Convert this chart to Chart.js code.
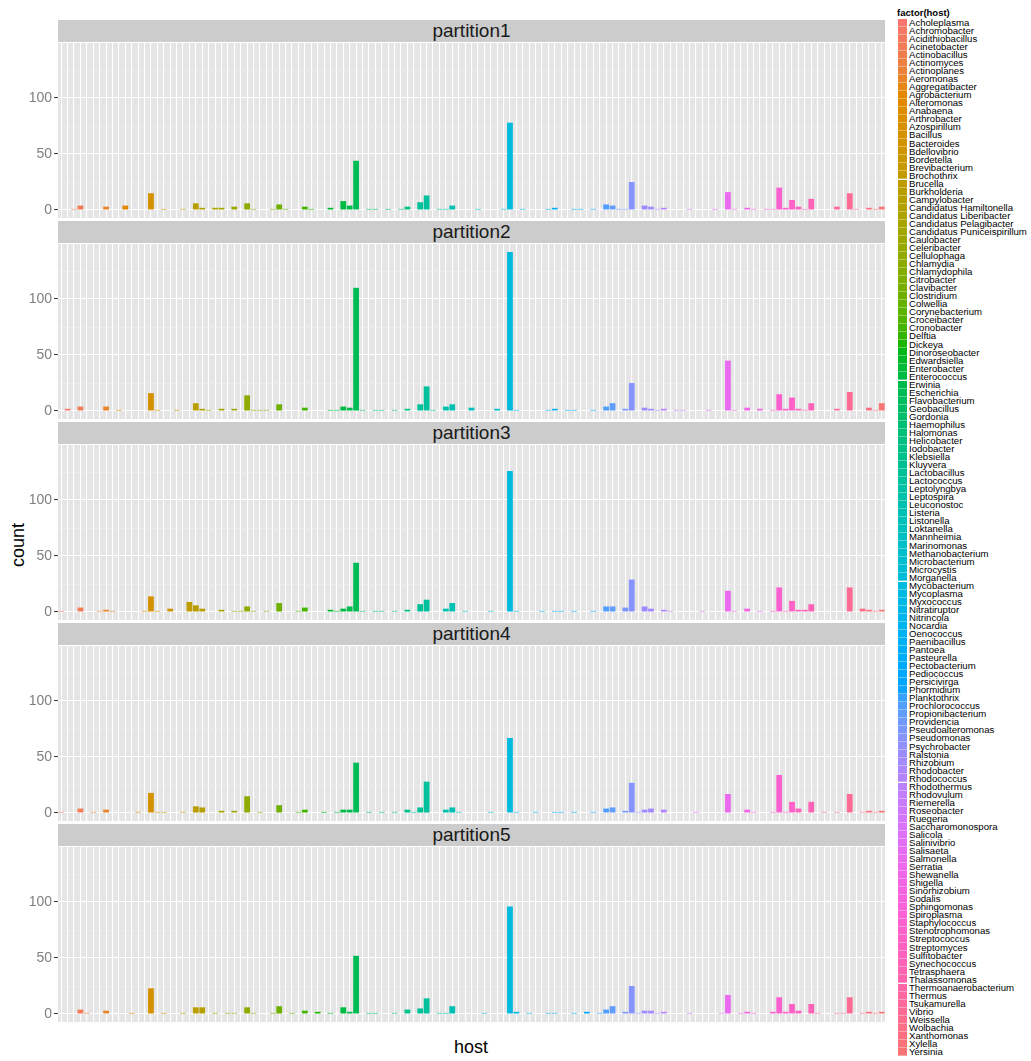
<!DOCTYPE html>
<html lang="en">
<head>
<meta charset="UTF-8">
<title>count by host, partitions 1-5</title>
<script src="https://cdn.jsdelivr.net/npm/chart.js"></script>
<style>
  body {
    margin: 0;
    background: #fff;
    font-family: "Liberation Sans", Arial, sans-serif;
  }
  #wrap {
    position: relative;
    width: 1031px;
    height: 1061px;
    overflow: hidden;
  }
  .strip {
    position: absolute;
    left: 58px;
    width: 827px;
    height: 22px;
    background: #cccccc;
    color: #1a1a1a;
    font-size: 19px;
    line-height: 22px;
    text-align: center;
  }
  canvas.panel {
    position: absolute;
    left: 0;
  }
  #ytitle {
    position: absolute;
    left: 18px;
    top: 545px;
    font-size: 18px;
    transform: translate(-50%, -50%) rotate(-90deg);
  }
  #xtitle {
    position: absolute;
    left: 471px;
    top: 1047px;
    font-size: 18px;
    transform: translate(-50%, -50%);
  }
  #legend-title {
    position: absolute;
    left: 897px;
    top: 7px;
    font-size: 9.5px;
    font-weight: bold;
  }
  .key {
    position: absolute;
    left: 898px;
    width: 9px;
    box-sizing: border-box;
    border-bottom: 1px solid rgba(255,255,255,0.35);
  }
  .klab {
    position: absolute;
    left: 909px;
    font-size: 9.6px;
    line-height: 8px;
    white-space: nowrap;
    color: #000;
  }
</style>
</head>
<body>
<div id="wrap">
  <div id="ytitle">count</div>
  <div id="xtitle">host</div>
  <div id="legend-title">factor(host)</div>
</div>

<script>
const hosts = ["Acholeplasma","Achromobacter","Acidithiobacillus","Acinetobacter","Actinobacillus","Actinomyces","Actinoplanes","Aeromonas","Aggregatibacter","Agrobacterium",
  "Alteromonas","Anabaena","Arthrobacter","Azospirillum","Bacillus","Bacteroides","Bdellovibrio","Bordetella","Brevibacterium","Brochothrix",
  "Brucella","Burkholderia","Campylobacter","Candidatus Hamiltonella","Candidatus Liberibacter","Candidatus Pelagibacter","Candidatus Puniceispirillum","Caulobacter","Celeribacter","Cellulophaga",
  "Chlamydia","Chlamydophila","Citrobacter","Clavibacter","Clostridium","Colwellia","Corynebacterium","Croceibacter","Cronobacter","Delftia",
  "Dickeya","Dinoroseobacter","Edwardsiella","Enterobacter","Enterococcus","Erwinia","Escherichia","Flavobacterium","Geobacillus","Gordonia",
  "Haemophilus","Halomonas","Helicobacter","Iodobacter","Klebsiella","Kluyvera","Lactobacillus","Lactococcus","Leptolyngbya","Leptospira",
  "Leuconostoc","Listeria","Listonella","Loktanella","Mannheimia","Marinomonas","Methanobacterium","Microbacterium","Microcystis","Morganella",
  "Mycobacterium","Mycoplasma","Myxococcus","Nitratiruptor","Nitrincola","Nocardia","Oenococcus","Paenibacillus","Pantoea","Pasteurella",
  "Pectobacterium","Pediococcus","Persicivirga","Phormidium","Planktothrix","Prochlorococcus","Propionibacterium","Providencia","Pseudoalteromonas","Pseudomonas",
  "Psychrobacter","Ralstonia","Rhizobium","Rhodobacter","Rhodococcus","Rhodothermus","Rhodovulum","Riemerella","Roseobacter","Ruegeria",
  "Saccharomonospora","Salicola","Salinivibrio","Salisaeta","Salmonella","Serratia","Shewanella","Shigella","Sinorhizobium","Sodalis",
  "Sphingomonas","Spiroplasma","Staphylococcus","Stenotrophomonas","Streptococcus","Streptomyces","Sulfitobacter","Synechococcus","Tetrasphaera","Thalassomonas",
  "Thermoanaerobacterium","Thermus","Tsukamurella","Vibrio","Weissella","Wolbachia","Xanthomonas","Xylella","Yersinia"];

const partitions = ["partition1", "partition2", "partition3", "partition4", "partition5"];

// counts per host, same order as hosts
const partition1 = [0,0,1,4,0,0,0,3,0,0, 4,0,0,0,15,0,1,0,0,1, 0,6,2,0,2,2,0,3,0,6, 1,0,0,1,5,1,0,0,3,1,
  0,0,2,0,8,4,44,0,1,1, 0,1,0,1,3,0,7,13,0,1, 1,4,0,0,0,1,0,0,0,1, 78,0,1,0,0,0,1,2,0,0,
  1,1,0,1,0,5,4,1,1,25, 0,4,3,1,2,0,0,0,1,0, 0,0,1,0,16,1,0,2,1,0, 1,1,20,2,9,3,1,10,0,0,
  0,3,0,15,1,0,2,1,3];
const partition2 = [0,2,0,4,0,0,0,4,0,1, 0,0,0,0,16,1,0,0,1,0, 0,7,2,1,0,2,0,2,0,14, 1,1,1,0,6,0,0,0,3,0,
  0,0,1,1,4,3,110,1,0,1, 1,0,1,0,2,0,6,22,1,0, 4,6,0,0,3,0,0,0,2,0, 142,1,0,0,0,0,1,2,0,1,
  1,0,0,1,0,4,7,0,2,25, 0,3,2,1,2,0,1,1,0,0, 0,1,0,0,45,1,0,3,0,2, 0,1,15,2,12,2,1,7,0,0,
  0,2,0,17,0,0,3,1,7];
const partition3 = [1,0,0,4,0,0,1,2,1,0, 0,0,0,1,14,1,0,3,0,0, 9,6,3,0,0,2,0,1,1,5, 1,0,1,0,8,0,0,1,4,0,
  0,0,2,1,3,5,44,1,0,1, 1,0,1,0,2,0,7,11,0,0, 3,8,0,1,0,0,0,1,0,0, 126,1,0,0,0,1,0,1,1,0,
  1,0,0,1,0,5,5,0,4,29, 0,5,3,0,2,1,0,0,0,0, 1,0,0,0,19,1,0,3,0,1, 0,1,22,1,10,2,2,7,0,0,
  0,0,0,22,0,3,2,1,2];
const partition4 = [1,0,0,4,0,1,0,3,0,0, 0,0,1,0,18,1,1,0,0,1, 0,6,5,0,0,2,0,2,0,15, 0,1,0,0,7,0,0,1,3,0,
  0,1,0,1,3,3,45,0,1,0, 1,0,1,0,3,1,5,28,0,0, 3,5,1,0,0,0,0,1,0,0, 67,1,0,0,1,0,0,1,1,0,
  1,0,0,1,0,4,5,0,2,27, 1,3,4,0,3,0,0,0,0,1, 0,0,0,0,17,0,0,3,1,0, 0,1,34,1,10,4,0,10,0,1,
  0,1,0,17,0,1,2,1,2];
const partition5 = [0,0,0,4,1,0,0,3,0,0, 0,1,0,0,23,0,1,0,0,1, 0,6,6,0,1,0,1,1,0,6, 1,0,0,1,7,0,1,0,3,0,
  2,0,1,0,6,2,52,0,1,1, 0,0,1,0,4,0,5,14,0,1, 1,7,0,0,0,0,1,0,0,0, 96,2,0,1,0,0,1,1,0,0,
  1,0,2,0,1,4,7,0,2,25, 1,3,3,1,2,0,0,0,1,0, 0,0,0,1,17,0,1,2,1,0, 0,2,15,2,9,3,0,9,1,0,
  0,1,1,15,0,1,2,1,2];
const series = [partition1, partition2, partition3, partition4, partition5];

const yTicks = [0, 50, 100];

// ggplot-style hue palette: hcl(h, c = 100, l = 65)
function hcl(h, c, l) {
  const Xn = 95.047, Yn = 100, Zn = 108.883;
  const hr = h * Math.PI / 180;
  const u = c * Math.cos(hr), v = c * Math.sin(hr);
  const Y = l > 8 ? Yn * Math.pow((l + 16) / 116, 3) : Yn * l / 903.3;
  const t = Xn + 15 * Yn + 3 * Zn;
  const up = u / (13 * l) + 4 * Xn / t;
  const vp = v / (13 * l) + 9 * Yn / t;
  const X = 9 * Y * up / (4 * vp);
  const Z = Y * (12 - 3 * up - 20 * vp) / (4 * vp);
  const x = X / 100, y = Y / 100, z = Z / 100;
  const lin = [
    3.240479 * x - 1.537150 * y - 0.498535 * z,
    -0.969256 * x + 1.875992 * y + 0.041556 * z,
    0.055648 * x - 0.204043 * y + 1.057311 * z
  ];
  const rgb = lin.map(q => {
    q = q > 0.0031308 ? 1.055 * Math.pow(q, 1 / 2.4) - 0.055 : 12.92 * q;
    return Math.round(Math.min(1, Math.max(0, q)) * 255);
  });
  return `rgb(${rgb[0]},${rgb[1]},${rgb[2]})`;
}
const n = hosts.length;
const colors = hosts.map((_, i) => hcl(15 + i * 360 / n, 100, 65));

const wrap = document.getElementById('wrap');

const panelBg = {
  id: 'panelBg',
  beforeDraw(chart) {
    const a = chart.chartArea, ctx = chart.ctx;
    ctx.save();
    ctx.fillStyle = '#e5e5e5';
    ctx.fillRect(a.left, a.top, a.right - a.left, a.bottom - a.top);
    ctx.restore();
  }
};

// no label padding, so the plot area fills the canvas
function noPad(scale) {
  scale.paddingTop = 0;
  scale.paddingBottom = 0;
  scale.paddingLeft = 0;
  scale.paddingRight = 0;
}

partitions.forEach((name, k) => {
  const top = 20 + 201 * k;

  const strip = document.createElement('div');
  strip.className = 'strip';
  strip.style.top = top + 'px';
  strip.textContent = name;
  wrap.appendChild(strip);

  const cv = document.createElement('canvas');
  cv.className = 'panel';
  cv.width = 885;
  cv.height = 175;
  cv.style.top = (top + 23) + 'px';
  wrap.appendChild(cv);

  new Chart(cv.getContext('2d'), {
    type: 'bar',
    data: {
      labels: hosts,
      datasets: [{
        data: series[k],
        backgroundColor: colors,
        borderWidth: 0,
        barPercentage: 0.9,
        categoryPercentage: 1.0
      }]
    },
    options: {
      responsive: false,
      animation: false,
      layout: { padding: 0 },
      plugins: { legend: { display: false }, tooltip: { enabled: false } },
      scales: {
        x: {
          ticks: { display: false },
          grid: { offset: false, color: '#ffffff', lineWidth: 1.1, drawTicks: false },
          border: { display: false },
          afterFit(scale) { scale.height = 0; noPad(scale); }
        },
        y: {
          min: -7.1,
          max: 149.1,
          ticks: {
            stepSize: 25,
            includeBounds: false,
            padding: 2,
            color: '#7f7f7f',
            font: { family: '"Liberation Sans", Arial, sans-serif', size: 14 },
            callback: v => (yTicks.includes(v) ? v : '')
          },
          grid: {
            color: c => (yTicks.includes(c.tick.value) ? '#ffffff' : '#f2f2f2'),
            lineWidth: c => (yTicks.includes(c.tick.value) ? 1.1 : 0.5),
            tickLength: 4,
            tickColor: c => (yTicks.includes(c.tick.value) ? '#333333' : 'rgba(0,0,0,0)'),
            tickWidth: 1
          },
          border: { display: false },
          afterFit(scale) { scale.width = 58; noPad(scale); }
        }
      }
    },
    plugins: [panelBg]
  });
});

// legend
const step = 8.04;
hosts.forEach((h, i) => {
  const y = 18.7 + i * step;
  const key = document.createElement('div');
  key.className = 'key';
  key.style.top = y + 'px';
  key.style.height = step + 'px';
  key.style.background = colors[i];
  wrap.appendChild(key);

  const lab = document.createElement('div');
  lab.className = 'klab';
  lab.style.top = (y + 0.2) + 'px';
  lab.textContent = h;
  wrap.appendChild(lab);
});
</script>
</body>
</html>
